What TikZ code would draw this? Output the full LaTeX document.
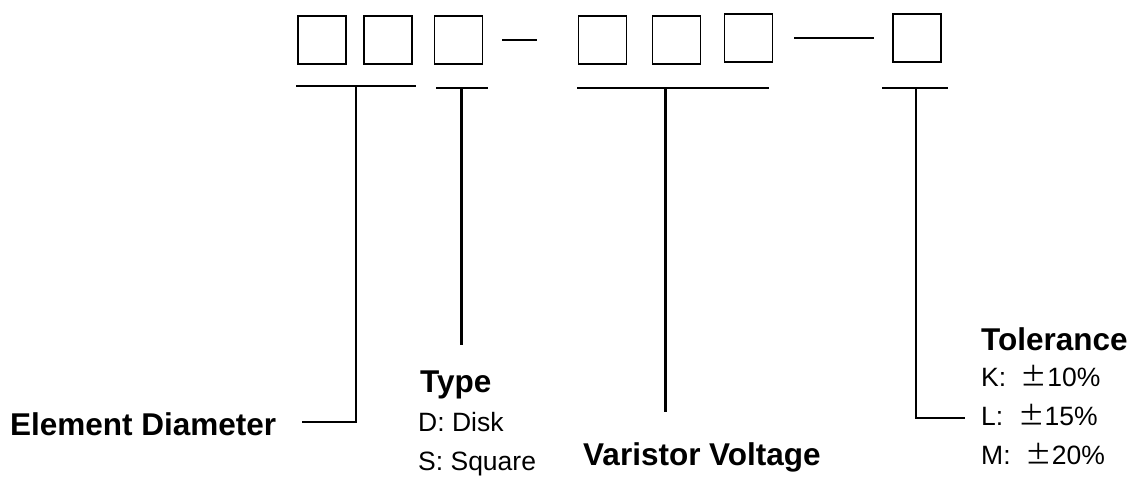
\documentclass[tikz,border=0pt]{standalone}
\usepackage{fontspec}
\setmainfont{Liberation Sans}
\newfontfamily\cjk{Noto Sans CJK SC}
\begin{document}
\begin{tikzpicture}[x=1pt,y=-1pt,
  digit/.style={draw,line width=1.6pt,minimum width=48pt,minimum height=48pt,inner sep=0pt,anchor=north west},
  bar/.style={line width=2.4pt},
  lead/.style={line width=2.4pt},
  title/.style={anchor=base west,inner sep=0pt,font=\fontsize{31.5}{36}\selectfont\bfseries},
  item/.style={anchor=base west,inner sep=0pt,font=\fontsize{26.5}{30}\selectfont}]
\useasboundingbox (0,0) rectangle (1131,478);
% boxes
\node[digit] (b1) at (297,15.5) {};
\node[digit] (b2) at (363,15.5) {};
\node[digit] (b3) at (433.5,15.5) {};
\node[digit] (b4) at (577.5,15.5) {};
\node[digit] (b5) at (651.5,15.5) {};
\node[digit] (b6) at (723.5,13.5) {};
\node[digit] (b7) at (892,13.5) {};
% dashes
\coordinate (d1a) at (502,40); \coordinate (d1b) at (537,40);
\coordinate (d2a) at (794,38); \coordinate (d2b) at (874,38);
\draw[bar] (d1a) -- (d1b);
\draw[bar] (d2a) -- (d2b);
% underlines
\coordinate (u1a) at (296,86); \coordinate (u1b) at (416,86);
\coordinate (u2a) at (436,88); \coordinate (u2b) at (488,88);
\coordinate (u3a) at (577,88); \coordinate (u3b) at (769,88);
\coordinate (u4a) at (882,88); \coordinate (u4b) at (948,88);
\draw[bar] (u1a) -- (u1b);
\draw[bar] (u2a) -- (u2b);
\draw[bar] (u3a) -- (u3b);
\draw[bar] (u4a) -- (u4b);
% labels
\node[title] (ed) at (10,435) {Element Diameter};
\node[title] (ty) at (420,392) {Type};
\node[item] (dd) at (418,431) {D: Disk};
\node[item] (ss) at (418,470) {S: Square};
\node[title] (vv) at (583,465) {Varistor Voltage};
\node[title] (to) at (981,350) {Tolerance};
\node[item] (kk) at (981,386) {K:\ \ {\cjk ±}10\%};
\node[item] (ll) at (981,425) {L:\ \ {\cjk ±}15\%};
\node[item] (mm) at (981,464) {M:\ \ {\cjk ±}20\%};
% leads
\coordinate (t1) at (356,86); \coordinate (c1) at (356,422); \coordinate (e1) at (302,422);
\coordinate (t2) at (461.5,88); \coordinate (e2) at (461.5,345);
\coordinate (t3) at (665.5,88); \coordinate (e3) at (665.5,412);
\coordinate (t4) at (916,88); \coordinate (c4) at (916,418); \coordinate (e4) at (965,418);
\draw[lead] (t1) -- (c1) -- (e1);
\draw[lead] (t2) -- (e2);
\draw[lead] (t3) -- (e3);
\draw[lead] (t4) -- (c4) -- (e4);
\end{tikzpicture}
\end{document}
